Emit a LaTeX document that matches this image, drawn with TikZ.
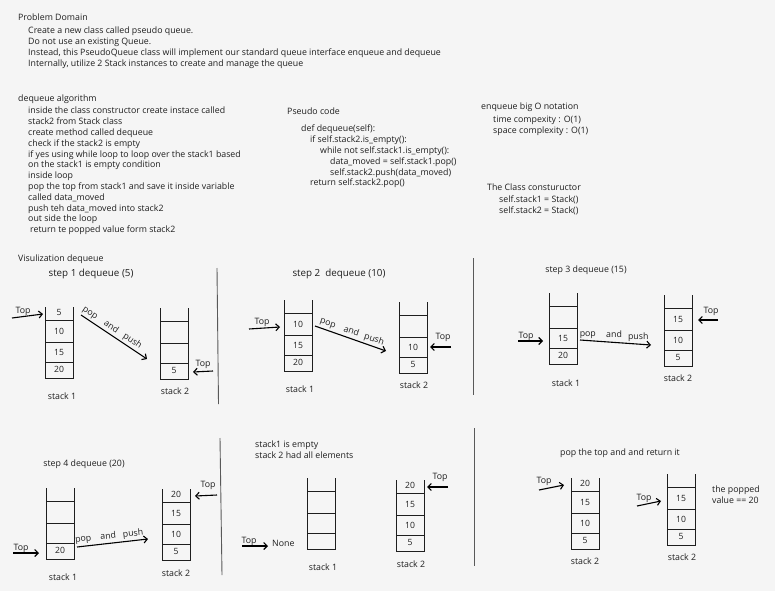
\documentclass[tikz,border=0pt]{standalone}
\usepackage{fontspec}
\setmainfont{Open Sans}
\usetikzlibrary{arrows.meta}
\definecolor{bg}{HTML}{F5F5F5}
\definecolor{ink}{HTML}{1E1E1E}
\tikzset{
  txt/.style={anchor=west, inner sep=0pt, text=ink, font=\fontsize{8.8}{10.8}\selectfont},
  block/.style={txt, anchor=north west, align=left},
  ttl/.style={inner sep=0pt, text=ink, font=\fontsize{9.8}{12}\selectfont},
  subttl/.style={inner sep=0pt, text=ink, font=\fontsize{8.8}{11}\selectfont},
  stackline/.style={draw=ink, line width=0.8pt},
  cell/.style={inner sep=0pt, text=ink, font=\fontsize{8.6}{10}\selectfont},
  toplab/.style={inner sep=0pt, text=ink, font=\fontsize{8.8}{10}\selectfont},
  word/.style={toplab, text height=6.5pt, text depth=2pt, above=2pt},
  arr/.style={-{Straight Barb[length=3.5pt,width=7pt]}, line width=1.1pt, black},
  divider/.style={draw=gray!70!black, line width=0.9pt},
}
\newcommand{\drawstack}[6]{%
  \begin{scope}[shift={(#2)}]
    \draw[stackline] (0,0) -- (0,71) -- (28,71) -- (28,0);
    \draw[stackline] (0,13) -- (28,13) (0,35) -- (28,35) (0,55) -- (28,55);
    \node[cell] (#1-1) at (14,5) {#3};
    \node[cell] (#1-2) at (14,24) {#4};
    \node[cell] (#1-3) at (14,45) {#5};
    \node[cell] (#1-4) at (14,62) {#6};
  \end{scope}}
\begin{document}
\begin{tikzpicture}[x=1pt, y=-1pt]
  \fill[bg] (0,0) rectangle (775,591);
  \useasboundingbox (0,0) rectangle (775,591);

  % text blocks
  \node[txt] (pd) at (18,17) {Problem Domain};
  \node[block] (pdtext) at (28,27) {Create a new class called pseudo queue.\\
    Do not use an existing Queue.\\
    Instead, this PseudoQueue class will implement our standard queue interface enqueue and dequeue\\
    Internally, utilize 2 Stack instances to create and manage the queue};

  \node[txt] (da) at (18,99) {dequeue algorithm};
  \node[block] (datext) at (28,107) {inside the class constructor create instace called\\
    stack2 from Stack class\\
    create method called dequeue\\
    check if the stack2 is empty\\
    if yes using while loop to loop over the stack1 based\\
    on the stack1 is empty condition\\
    inside loop\\
    pop the top from stack1 and save it inside variable\\
    called data\_moved\\
    push teh data\_moved into stack2\\
    out side the loop\\
    \hspace{2pt}return te popped value form stack2};

  \node[txt] (pc) at (287,111) {Pseudo code};
  \node[block] (pctext) at (301,125) {def dequeue(self):\\
    \hspace{9pt}if self.stack2.is\_empty():\\
    \hspace{19pt}while not self.stack1.is\_empty():\\
    \hspace{29pt}data\_moved = self.stack1.pop()\\
    \hspace{29pt}self.stack2.push(data\_moved)\\
    \hspace{9pt}return self.stack2.pop()};

  \node[txt] (bo) at (481,107) {enqueue big O notation};
  \node[block] (botext) at (493,116) {time compexity : O(1)\\
    space complexity : O(1)};
  \node[txt] (cc) at (487,187) {The Class constuructor};
  \node[block] (cctext) at (499,196) {self.stack1 = Stack()\\
    self.stack2 = Stack()};

  \node[txt] (vis) at (18,259) {Visulization dequeue};

  % dividers
  \draw[divider] (217,268) -- (218.5,404);
  \draw[divider] (220,438) -- (222,575);
  \draw[divider] (473,258) -- (473,395);
  \draw[divider] (474,428) -- (474,566);

  % step 1
  \node[ttl] (st1) at (91,274) {step 1 dequeue (5)};
  \drawstack{a1}{45,307}{5}{10}{15}{20}
  \drawstack{b1}{160,308}{}{}{}{5}
  \node[txt, anchor=center] (la1) at (62,396) {stack 1};
  \node[txt, anchor=center] (lb1) at (175,391) {stack 2};
  \node[toplab] (ta1) at (23,311) {Top};
  \coordinate (ta1s) at (12,318); \coordinate (ta1e) at (43,314);
  \draw[arr] (ta1s) -- (ta1e);
  \node[toplab] (tb1) at (203,364) {Top};
  \coordinate (tb1s) at (213,371); \coordinate (tb1e) at (193,372);
  \draw[arr] (tb1s) -- (tb1e);
  \coordinate (p1s) at (81,315); \coordinate (p1e) at (147,359);
  \draw[arr] (p1s) -- node[word, sloped, pos=0.08] (w1a) {pop}
    node[word, sloped, pos=0.4] (w1b) {and}
    node[word, sloped, pos=0.72] (w1c) {push} (p1e);

  % step 2
  \node[ttl] (st2) at (339,274) {step 2\ \ dequeue (10)};
  \drawstack{a2}{284,300}{}{10}{15}{20}
  \drawstack{b2}{399,302}{}{}{10}{5}
  \node[txt, anchor=center] (la2) at (300,389) {stack 1};
  \node[txt, anchor=center] (lb2) at (414,385) {stack 2};
  \node[toplab] (ta2) at (262,322) {Top};
  \coordinate (ta2s) at (249,329); \coordinate (ta2e) at (280,327);
  \draw[arr] (ta2s) -- (ta2e);
  \node[toplab] (tb2) at (443,337) {Top};
  \coordinate (tb2s) at (451,347); \coordinate (tb2e) at (430,347);
  \draw[arr] (tb2s) -- (tb2e);
  \coordinate (p2s) at (315,326); \coordinate (p2e) at (386,351);
  \draw[arr] (p2s) -- node[word, sloped, pos=0.15] (w2a) {pop}
    node[word, sloped, pos=0.48] (w2b) {and}
    node[word, sloped, pos=0.8] (w2c) {push} (p2e);

  % step 3
  \node[subttl] (st3) at (586,270) {step 3 dequeue (15)};
  \drawstack{a3}{549,293}{}{}{15}{20}
  \drawstack{b3}{664,295}{}{15}{10}{5}
  \node[txt, anchor=center] (la3) at (566,383) {stack 1};
  \node[txt, anchor=center] (lb3) at (678,378) {stack 2};
  \node[toplab] (ta3) at (526,336) {Top};
  \coordinate (ta3s) at (518,341); \coordinate (ta3e) at (543,341);
  \draw[arr] (ta3s) -- (ta3e);
  \node[toplab] (tb3) at (711,311) {Top};
  \coordinate (tb3s) at (718,320); \coordinate (tb3e) at (698,320);
  \draw[arr] (tb3s) -- (tb3e);
  \coordinate (p3s) at (580,340); \coordinate (p3e) at (651,345);
  \draw[arr] (p3s) -- node[word, pos=0.11] (w3a) {pop}
    node[word, pos=0.48] (w3b) {and}
    node[word, pos=0.82] (w3c) {push} (p3e);

  % step 4
  \node[subttl] (st4) at (84,464) {step 4 dequeue (20)};
  \drawstack{a4}{46,488}{}{}{}{20}
  \drawstack{b4}{162,489}{20}{15}{10}{5}
  \node[txt, anchor=center] (la4) at (63,577) {stack 1};
  \node[txt, anchor=center] (lb4) at (176,573) {stack 2};
  \node[toplab] (ta4) at (21,548) {Top};
  \coordinate (ta4s) at (13,553); \coordinate (ta4e) at (39,553);
  \draw[arr] (ta4s) -- (ta4e);
  \node[toplab] (tb4) at (208,485) {Top};
  \coordinate (tb4s) at (217,495); \coordinate (tb4e) at (195,496);
  \draw[arr] (tb4s) -- (tb4e);
  \coordinate (p4s) at (77,547); \coordinate (p4e) at (148,539);
  \draw[arr] (p4s) -- node[word, sloped, pos=0.1] (w4a) {pop}
    node[word, sloped, pos=0.45] (w4b) {and}
    node[word, sloped, pos=0.8] (w4c) {push} (p4e);

  % stack1 empty
  \node[block] (emp) at (255,441) {stack1 is empty\\ stack 2 had all elements};
  \drawstack{a5}{307,478}{}{}{}{}
  \drawstack{b5}{396,480}{20}{15}{10}{5}
  \node[txt, anchor=center] (la5) at (323,567) {stack 1};
  \node[txt, anchor=center] (lb5) at (411,564) {stack 2};
  \node[toplab] (ta5) at (249,541) {Top};
  \coordinate (ta5s) at (242,546); \coordinate (ta5e) at (268,546);
  \draw[arr] (ta5s) -- (ta5e);
  \node[txt] (none) at (272,543) {None};
  \node[toplab] (tb5) at (440,477) {Top};
  \coordinate (tb5s) at (448,487); \coordinate (tb5e) at (427,487);
  \draw[arr] (tb5s) -- (tb5e);

  % pop and return
  \node[txt, anchor=center] (st6) at (620,453) {pop the top and and return it};
  \drawstack{a6}{571,478}{20}{15}{10}{5}
  \drawstack{b6}{667,474}{}{15}{10}{5}
  \node[txt, anchor=center] (la6) at (585,561) {stack 2};
  \node[txt, anchor=center] (lb6) at (682,557) {stack 2};
  \node[toplab] (ta6) at (544,481) {Top};
  \coordinate (ta6s) at (539,490); \coordinate (ta6e) at (564,485);
  \draw[arr] (ta6s) -- (ta6e);
  \node[toplab] (tb6) at (644,498) {Top};
  \coordinate (tb6s) at (637,506); \coordinate (tb6e) at (661,501);
  \draw[arr] (tb6s) -- (tb6e);
  \node[block] (popped) at (712,486) {the popped\\ value == 20};
\end{tikzpicture}
\end{document}
